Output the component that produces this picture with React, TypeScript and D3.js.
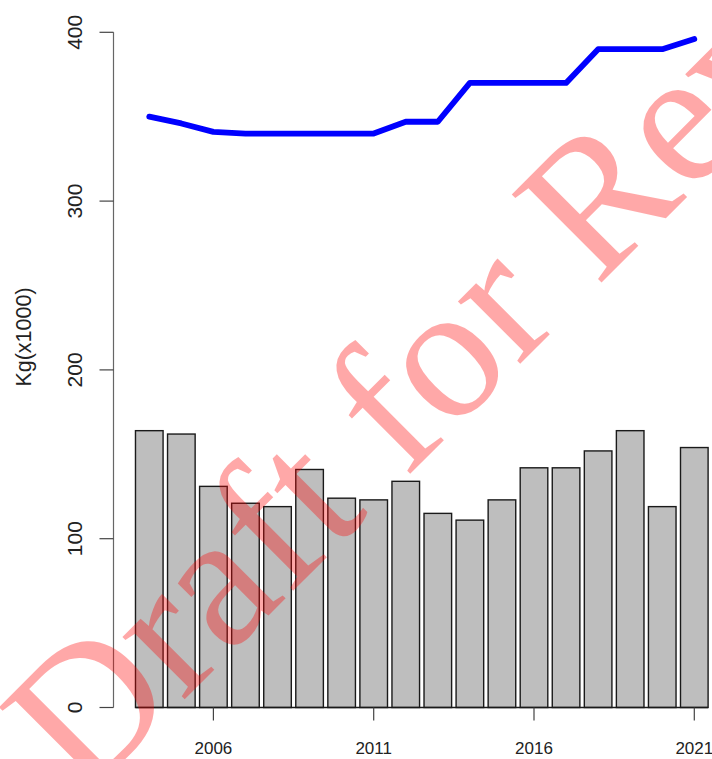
import React from "react";
import * as d3 from "d3";

const years = [2004, 2005, 2006, 2007, 2008, 2009, 2010, 2011, 2012, 2013, 2014, 2015, 2016, 2017, 2018, 2019, 2020, 2021];
const barValues = [164, 162, 131, 121, 119, 141, 124, 123, 134, 115, 111, 123, 142, 142, 152, 164, 119, 154];
const lineValues = [350, 346, 341, 340, 340, 340, 340, 340, 347, 347, 370, 370, 370, 370, 390, 390, 390, 396];
const yTicks = [0, 100, 200, 300, 400];
const xTicks = [2006, 2011, 2016, 2021];
const yLabel = "Kg(x1000)";
const watermark = "Draft for Review";

export default function App() {
  const W = 712, H = 759;
  const x = d3.scaleLinear().domain([2006, 2021]).range([213.4, 694.3]);
  const y = d3.scaleLinear().domain([0, 400]).range([707.5, 32.3]);
  const bw = 27.6;
  const axisX = 113.5;
  const line = d3.line<number>().x((_, i) => x(years[i])).y((d) => y(d));
  return (
    <svg width={W} height={H} style={{ position: "absolute", left: 0, top: 0, background: "#fff" }}>
      {years.map((yr, i) => (
        <rect key={yr} x={x(yr) - bw / 2} y={y(barValues[i])} width={bw} height={y(0) - y(barValues[i])}
          fill="#bebebe" stroke="#1a1a1a" strokeWidth={1.4} />
      ))}
      <line x1={x(years[0]) - bw / 2} x2={x(years[years.length - 1]) + bw / 2} y1={y(0)} y2={y(0)} stroke="#1a1a1a" strokeWidth={1.4} />
      <path d={line(lineValues) || ""} fill="none" stroke="#0000ff" strokeWidth={5.8} strokeLinejoin="round" strokeLinecap="round" />
      {/* y axis */}
      <line x1={axisX} x2={axisX} y1={y(0)} y2={y(400)} stroke="#666" strokeWidth={1.2} />
      {yTicks.map((t) => (
        <g key={t}>
          <line x1={axisX - 14} x2={axisX} y1={y(t)} y2={y(t)} stroke="#444" strokeWidth={1.2} />
          <text transform={`translate(${82},${y(t)}) rotate(-90)`} textAnchor="middle" fontFamily="Liberation Sans, Arial, sans-serif" fontSize={21} fill="#222">{t}</text>
        </g>
      ))}
      <text transform={`translate(${31},${337}) rotate(-90)`} textAnchor="middle" fontFamily="Liberation Sans, Arial, sans-serif" fontSize={21.5} fill="#222">{yLabel}</text>
      {/* x ticks */}
      {xTicks.map((t) => (
        <g key={t}>
          <line x1={x(t)} x2={x(t)} y1={y(0)} y2={y(0) + 13} stroke="#444" strokeWidth={1.2} />
          <text x={x(t)} y={754} textAnchor="middle" fontFamily="Liberation Sans, Arial, sans-serif" fontSize={17} fill="#222">{t}</text>
        </g>
      ))}
      {/* watermark */}
      <text transform={`translate(84,800) rotate(-45)`} fontFamily="Liberation Serif, Times New Roman, serif" fontSize={192} fill="rgba(255,0,0,0.34)">{watermark}</text>
    </svg>
  );
}
